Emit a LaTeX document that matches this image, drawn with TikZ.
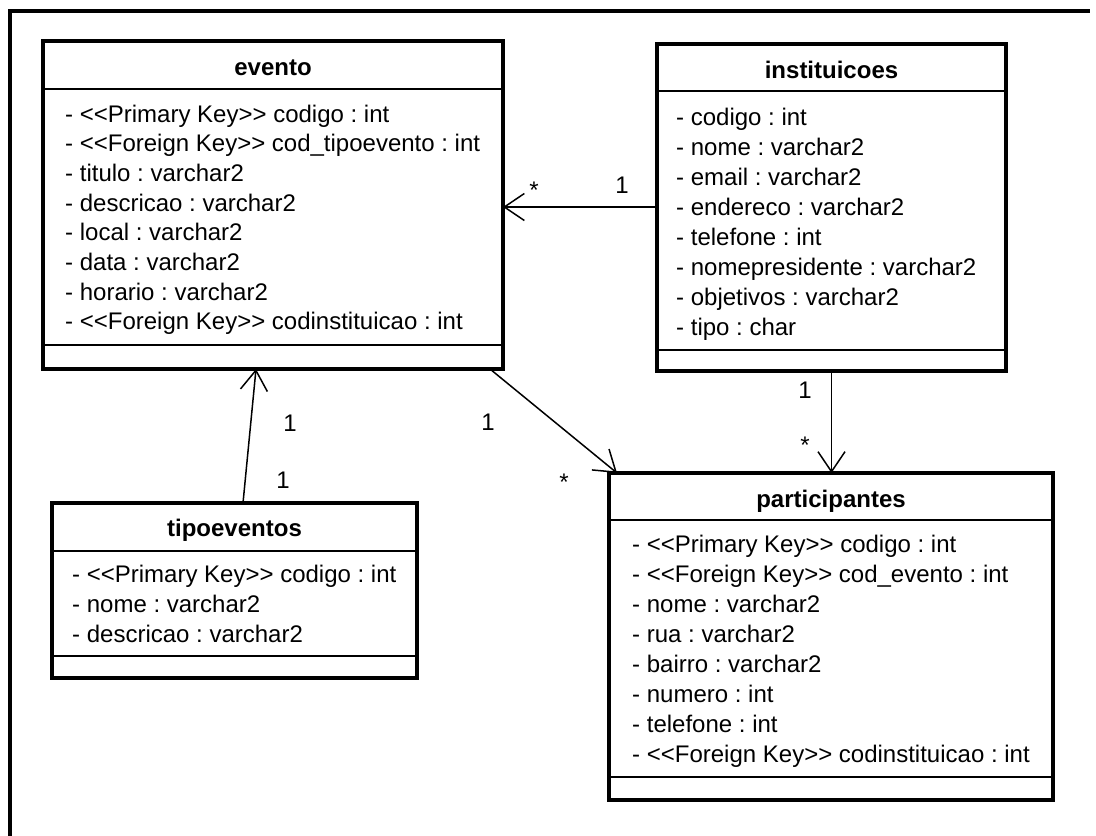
\documentclass[tikz,border=0pt]{standalone}
\usepackage{fontspec}
\setmainfont{Liberation Sans}[Ligatures=TeXOff]
\usepackage{tikz}
\usetikzlibrary{arrows.meta,positioning}
\frenchspacing

\begin{document}
\begin{tikzpicture}[x=1pt,y=-1pt,
    classbox/.style={draw, line width=3.5pt, rectangle, anchor=north west, inner sep=0pt, outer sep=0pt},
    divider/.style={line width=1.5pt},
    classname/.style={font=\fontsize{24}{28}\selectfont\bfseries, anchor=base},
    attr/.style={font=\fontsize{24}{28}\selectfont, anchor=base west, inner sep=0pt},
    mult/.style={font=\fontsize{24}{28}\selectfont, inner sep=0pt},
    assoc/.style={line width=1.5pt, -{Straight Barb[length=20pt, width=27pt, line width=1.5pt]}}]
    \useasboundingbox (0,0) rectangle (1096,836);
    % frame
    \draw[line width=4pt] (10.3,836) -- (10.3,11) -- (1090,11);

    % evento
    \node[classbox, minimum width=460pt, minimum height=328pt] (evento) at (43,41) {};
    \draw[divider] (evento.west |- 0,89) -- (evento.east |- 0,89);
    \draw[divider] (evento.west |- 0,345) -- (evento.east |- 0,345);
    \node[classname] (evento-name) at (evento.north |- 0,75) {evento};
    \foreach \txt [count=\i from 0] in {- <<Primary Key>> codigo : int,
        - <<Foreign Key>> cod\_tipoevento : int, - titulo : varchar2,
        - descricao : varchar2, - local : varchar2, - data : varchar2,
        - horario : varchar2, - <<Foreign Key>> codinstituicao : int}
        \node[attr] (evento-a\i) at (65,{122+29.7*\i}) {\txt};

    % instituicoes
    \node[classbox, minimum width=349pt, minimum height=327pt] (instituicoes) at (657,44) {};
    \draw[divider] (instituicoes.west |- 0,91) -- (instituicoes.east |- 0,91);
    \draw[divider] (instituicoes.west |- 0,350) -- (instituicoes.east |- 0,350);
    \node[classname] (instituicoes-name) at (instituicoes.north |- 0,78) {instituicoes};
    \foreach \txt [count=\i from 0] in {- codigo : int, - nome : varchar2,
        - email : varchar2, - endereco : varchar2, - telefone : int,
        - nomepresidente : varchar2, - objetivos : varchar2, - tipo : char}
        \node[attr] (instituicoes-a\i) at (676,{125+30*\i}) {\txt};

    % tipoeventos
    \node[classbox, minimum width=365pt, minimum height=175pt] (tipoeventos) at (52,503) {};
    \draw[divider] (tipoeventos.west |- 0,551) -- (tipoeventos.east |- 0,551);
    \draw[divider] (tipoeventos.west |- 0,656) -- (tipoeventos.east |- 0,656);
    \node[classname] (tipoeventos-name) at (tipoeventos.north |- 0,536) {tipoeventos};
    \foreach \txt [count=\i from 0] in {- <<Primary Key>> codigo : int,
        - nome : varchar2, - descricao : varchar2}
        \node[attr] (tipoeventos-a\i) at (72,{582+30*\i}) {\txt};

    % participantes
    \node[classbox, minimum width=444pt, minimum height=327pt] (participantes) at (609,473) {};
    \draw[divider] (participantes.west |- 0,520) -- (participantes.east |- 0,520);
    \draw[divider] (participantes.west |- 0,777) -- (participantes.east |- 0,777);
    \node[classname] (participantes-name) at (participantes.north |- 0,507) {participantes};
    \foreach \txt [count=\i from 0] in {- <<Primary Key>> codigo : int,
        - <<Foreign Key>> cod\_evento : int, - nome : varchar2,
        - rua : varchar2, - bairro : varchar2, - numero : int,
        - telefone : int, - <<Foreign Key>> codinstituicao : int}
        \node[attr] (participantes-a\i) at (632,{552+30*\i}) {\txt};

    % associations
    \draw[assoc] (instituicoes.west |- 0,207) -- (evento.east |- 0,207);
    \draw[assoc] ([xshift=8.5pt]tipoeventos.north) -- ([xshift=-17pt]evento.south);
    \draw[assoc] ([xshift=-13pt]evento.south east) -- ([xshift=8pt]participantes.north west);
    \draw[assoc] (instituicoes.south) -- (instituicoes.south |- participantes.north);

    % multiplicities
    \node[mult] (m-ev-inst) at (534,190) {*};
    \node[mult] (m-inst-ev) at (622,185) {1};
    \node[mult] (m-ev-tipo) at (290,423) {1};
    \node[mult] (m-tipo-ev) at (283,480) {1};
    \node[mult] (m-ev-part) at (488,422) {1};
    \node[mult] (m-part-ev) at (564,482) {*};
    \node[mult] (m-inst-part) at (805,390) {1};
    \node[mult] (m-part-inst) at (805,445) {*};
\end{tikzpicture}
\end{document}
